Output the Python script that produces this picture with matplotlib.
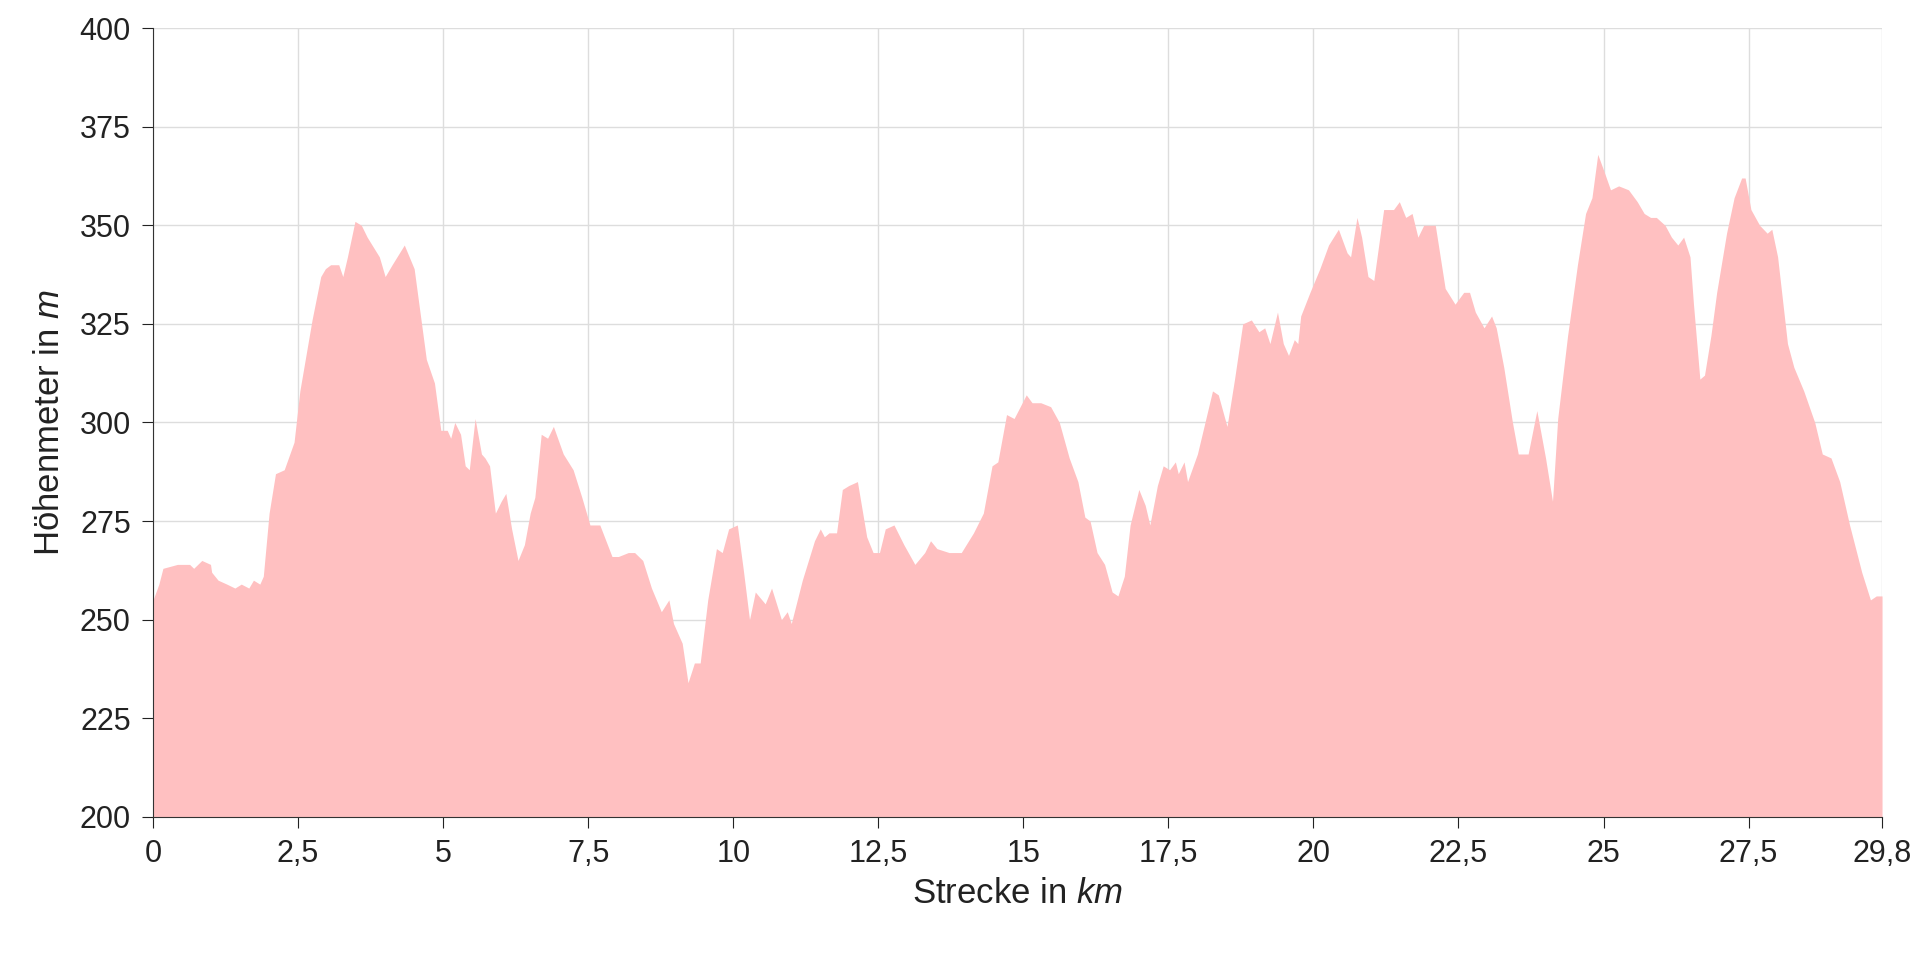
import matplotlib
matplotlib.use("Agg")
import matplotlib.pyplot as plt

plt.rcParams["font.family"] = ["Liberation Sans", "DejaVu Sans"]
plt.rcParams["mathtext.fontset"] = "custom"
plt.rcParams["mathtext.it"] = "Liberation Sans:italic"
plt.rcParams["mathtext.rm"] = "Liberation Sans"

distance_km = [
    0, 0.1, 0.17, 0.42, 0.63, 0.7, 0.84, 0.99, 1.01, 1.12, 1.27, 1.41, 1.52, 1.65, 1.73, 1.84, 1.9,
    2.0, 2.11, 2.26, 2.43, 2.53, 2.74, 2.89, 2.97, 3.06, 3.2, 3.27, 3.35, 3.48, 3.59, 3.69, 3.9,
    4.0, 4.12, 4.33, 4.5, 4.71, 4.85, 4.96, 5.07, 5.13, 5.2, 5.3, 5.38, 5.45, 5.55, 5.66, 5.72,
    5.8, 5.9, 6.0, 6.08, 6.18, 6.29, 6.4, 6.5, 6.58, 6.69, 6.8, 6.9, 7.07, 7.24, 7.39, 7.53, 7.7,
    7.91, 8.02, 8.19, 8.3, 8.44, 8.59, 8.76, 8.89, 8.97, 9.12, 9.22, 9.33, 9.43, 9.56, 9.71, 9.81,
    9.92, 10.07, 10.17, 10.28, 10.38, 10.55, 10.66, 10.83, 10.93, 11.0, 11.19, 11.4, 11.5, 11.57,
    11.65, 11.78, 11.88, 11.99, 12.14, 12.3, 12.41, 12.52, 12.62, 12.77, 12.94, 13.13, 13.3, 13.4,
    13.51, 13.72, 13.93, 14.14, 14.31, 14.46, 14.56, 14.71, 14.84, 15.05, 15.15, 15.3, 15.47,
    15.62, 15.79, 15.94, 16.06, 16.15, 16.27, 16.4, 16.53, 16.63, 16.74, 16.84, 16.99, 17.1,
    17.18, 17.31, 17.41, 17.52, 17.62, 17.67, 17.77, 17.83, 18.0, 18.26, 18.36, 18.51, 18.64,
    18.78, 18.93, 19.06, 19.16, 19.25, 19.38, 19.48, 19.57, 19.67, 19.73, 19.78, 19.94, 20.11,
    20.26, 20.43, 20.58, 20.64, 20.75, 20.83, 20.94, 21.04, 21.21, 21.38, 21.48, 21.59, 21.7,
    21.8, 21.9, 22.1, 22.27, 22.44, 22.59, 22.69, 22.79, 22.94, 23.07, 23.15, 23.28, 23.43,
    23.53, 23.7, 23.85, 24.0, 24.12, 24.21, 24.38, 24.55, 24.69, 24.8, 24.9, 25.0, 25.12, 25.26,
    25.43, 25.58, 25.7, 25.81, 25.91, 26.06, 26.17, 26.28, 26.38, 26.49, 26.55, 26.66, 26.74,
    26.85, 26.95, 27.12, 27.25, 27.38, 27.44, 27.54, 27.69, 27.82, 27.9, 28.0, 28.17, 28.28,
    28.45, 28.64, 28.77, 28.92, 29.07, 29.24, 29.45, 29.6, 29.7, 29.8,
]
elevation_m = [
    255, 259, 263, 264, 264, 263, 265, 264, 262, 260, 259, 258, 259, 258, 260, 259, 261,
    277, 287, 288, 295, 308, 326, 337, 339, 340, 340, 337, 342, 351, 350, 347, 342,
    337, 340, 345, 339, 316, 310, 298, 298, 296, 300, 297, 289, 288, 301, 292, 291,
    289, 277, 280, 282, 273, 265, 269, 277, 281, 297, 296, 299, 292, 288, 281, 274, 274,
    266, 266, 267, 267, 265, 258, 252, 255, 249, 244, 234, 239, 239, 255, 268, 267,
    273, 274, 263, 250, 257, 254, 258, 250, 252, 249, 260, 270, 273, 271,
    272, 272, 283, 284, 285, 271, 267, 267, 273, 274, 269, 264, 267, 270,
    268, 267, 267, 272, 277, 289, 290, 302, 301, 307, 305, 305, 304,
    300, 291, 285, 276, 275, 267, 264, 257, 256, 261, 274, 283, 279,
    274, 284, 289, 288, 290, 287, 290, 285, 292, 308, 307, 299, 311,
    325, 326, 323, 324, 320, 328, 320, 317, 321, 320, 327, 333, 339,
    345, 349, 343, 342, 352, 347, 337, 336, 354, 354, 356, 352, 353,
    347, 350, 350, 334, 330, 333, 333, 328, 324, 327, 324, 314, 300,
    292, 292, 303, 291, 280, 301, 322, 340, 353, 357, 368, 364, 359, 360,
    359, 356, 353, 352, 352, 350, 347, 345, 347, 342, 330, 311, 312,
    322, 333, 348, 357, 362, 362, 354, 350, 348, 349, 342, 320, 314,
    308, 300, 292, 291, 285, 274, 262, 255, 256, 256,
]

x_ticks = [0, 2.5, 5, 7.5, 10, 12.5, 15, 17.5, 20, 22.5, 25, 27.5, 29.8]
x_labels = ["0", "2,5", "5", "7,5", "10", "12,5", "15", "17,5", "20", "22,5", "25", "27,5", "29,8"]
y_ticks = [200, 225, 250, 275, 300, 325, 350, 375, 400]

fig = plt.figure(figsize=(19.2, 9.6), dpi=100)
ax = fig.add_axes([125 / 1568, 1 - 667 / 784, (1537 - 125) / 1568, (667 - 23) / 784])

ax.fill_between(distance_km, 200, elevation_m, color="#ffc0c1", linewidth=0, zorder=2)

ax.set_xlim(0, 29.8)
ax.set_ylim(200, 400)
ax.set_xticks(x_ticks)
ax.set_xticklabels(x_labels)
ax.set_yticks(y_ticks)
ax.grid(True, color="#dddddd", linewidth=1, zorder=0)
ax.set_axisbelow(True)

for side in ["top", "right"]:
    ax.spines[side].set_visible(False)
for side in ["left", "bottom"]:
    ax.spines[side].set_color("#333333")
    ax.spines[side].set_zorder(3)
ax.tick_params(labelsize=22, colors="#222222", length=8, direction="out", pad=8)

ax.set_xlabel("Strecke in $\\mathit{km}$", fontsize=25, color="#222222", labelpad=6)
ax.set_ylabel("Höhenmeter in $\\mathit{m}$", fontsize=25, color="#222222", labelpad=10)

fig.savefig("out.png", dpi=100)
